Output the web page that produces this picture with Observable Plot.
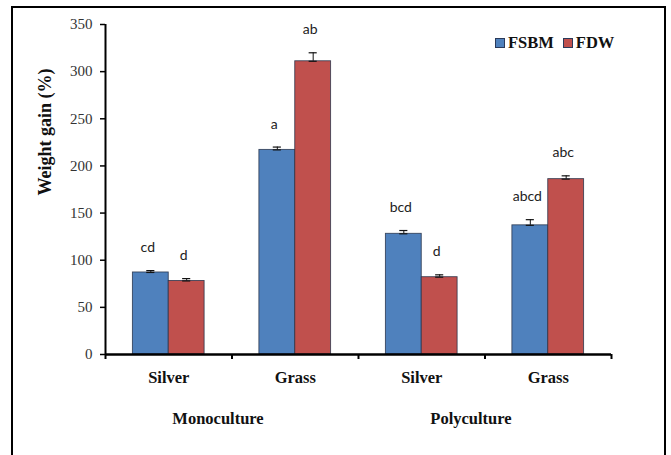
<!DOCTYPE html>
<html>
<head>
<meta charset="utf-8">
<script src="https://cdn.jsdelivr.net/npm/d3@7"></script>
<script src="https://cdn.jsdelivr.net/npm/@observablehq/plot@0.6"></script>
<style>
  html, body { margin: 0; padding: 0; background: #fff; }
  #wrap { position: relative; width: 671px; height: 455px; overflow: hidden; background: #fff; }
  #border { position: absolute; left: 11px; top: 6px; width: 655px; height: 470px; box-sizing: border-box; border: 2px solid #000; pointer-events: none; }
  #chart { position: absolute; left: 0; top: 0; }
  #legend { position: absolute; left: 495px; top: 33px; font-family: "Liberation Serif", "Times New Roman", serif; font-weight: bold; font-size: 16.5px; color: #111; display: flex; align-items: center; white-space: nowrap; }
  .sw { display: inline-block; width: 8px; height: 8px; border: 1px solid #2a3a5a; margin-right: 3px; }
  .item { display: flex; align-items: center; margin-right: 9px; }
</style>
</head>
<body>
<div id="wrap">
  <div id="chart"></div>
  <div id="legend"></div>
  <div id="border"></div>
</div>
<script>
// ---- data ----
const categories = ["Silver", "Grass", "Silver", "Grass"];
const systems = ["Monoculture", "Polyculture"];
const series = ["FSBM", "FDW"];
const colors = ["#4F81BD", "#C0504D"];
const fsbmValues = [87, 217, 128, 137];
const fdwValues = [78, 311, 82, 186];
const fsbmErrors = [2, 3, 3.5, 6];
const fdwErrors = [2.5, 9, 2.5, 3.5];
const fsbmLetters = ["cd", "a", "bcd", "abcd"];
const fdwLetters = ["d", "ab", "d", "abc"];
const yTicks = [0, 50, 100, 150, 200, 250, 300, 350];

// ---- table ----
const BW = 36 / 127; // bar width in group units
const rows = [];
categories.forEach((c, i) => {
  rows.push({i, series: "FSBM", value: fsbmValues[i], err: fsbmErrors[i], letter: fsbmLetters[i],
             x1: i + 0.5 - BW, x2: i + 0.5});
  rows.push({i, series: "FDW", value: fdwValues[i], err: fdwErrors[i], letter: fdwLetters[i],
             x1: i + 0.5, x2: i + 0.5 + BW});
});
rows.forEach(r => { r.xc = (r.x1 + r.x2) / 2; r.top = r.value + r.err; });

const serif = "Liberation Serif, Times New Roman, serif";
const capW = 0.032;

const chart = Plot.plot({
  width: 671,
  height: 455,
  marginLeft: 105,
  marginRight: 60,
  marginTop: 24,
  marginBottom: 101,
  style: {background: "transparent", overflow: "visible"},
  x: {type: "linear", domain: [0, categories.length], axis: null},
  y: {domain: [0, 350], axis: null},
  color: {domain: series, range: colors},
  marks: [
    Plot.rectY(rows, {x1: "x1", x2: "x2", y1: 0, y2: "value", fill: "series", stroke: "#27324a", strokeWidth: 0.9, strokeOpacity: 0.85}),
    // error bars
    Plot.ruleX(rows, {x: "xc", y1: "value", y2: "top", stroke: "#111", strokeWidth: 1}),
    Plot.ruleY(rows, {y: "top", x1: d => d.xc - capW, x2: d => d.xc + capW, stroke: "#111", strokeWidth: 1.2}),
    Plot.ruleY(rows, {y: "value", x1: d => d.xc - capW, x2: d => d.xc + capW, stroke: "#111", strokeWidth: 1.2}),
    // significance letters
    Plot.text(rows, {x: "xc", y: "top", text: "letter", dy: -23, dx: -3, fontFamily: "Lato, sans-serif", fontSize: 14, fill: "#222"}),
    // y axis
    Plot.axisY({ticks: yTicks, tickSize: 5, tickPadding: 8, tickFormat: d => d, label: null,
                fontFamily: serif, fontSize: 15, fill: "#333", stroke: "#000", strokeWidth: 1.5}),
    Plot.ruleX([0], {stroke: "#000", strokeWidth: 2}),
    // x axis line and boundary ticks
    Plot.ruleY([0], {stroke: "#000", strokeWidth: 2.5}),
    Plot.axisX({ticks: d3.range(categories.length + 1), tickSize: 5, tickFormat: () => "", label: null, stroke: "#000", strokeWidth: 2}),
    // category labels
    Plot.axisX({ticks: categories.map((c, i) => i + 0.5), tickSize: 0, tickPadding: 17,
                tickFormat: (d) => categories[Math.floor(d)], label: null,
                fontFamily: serif, fontWeight: "bold", fontSize: 16.5, fill: "#111"}),
    // system labels
    Plot.axisX({ticks: systems.map((s, k) => 2 * k + 1), tickSize: 0, tickPadding: 58, dx: -14,
                tickFormat: (d) => systems[(d - 1) / 2], label: null,
                fontFamily: serif, fontWeight: "bold", fontSize: 16.5, fill: "#111"}),
    // y title
    Plot.text(["Weight gain (%)"], {frameAnchor: "left", dx: -60, dy: 6, rotate: -90,
                fontFamily: serif, fontWeight: "bold", fontSize: 18, fill: "#111"})
  ]
});
document.getElementById("chart").appendChild(chart);

// legend
const legend = document.getElementById("legend");
series.forEach((s, k) => {
  const item = document.createElement("span");
  item.className = "item";
  const sw = document.createElement("span");
  sw.className = "sw";
  sw.style.background = colors[k];
  item.appendChild(sw);
  item.appendChild(document.createTextNode(s));
  legend.appendChild(item);
});
</script>
</body>
</html>
